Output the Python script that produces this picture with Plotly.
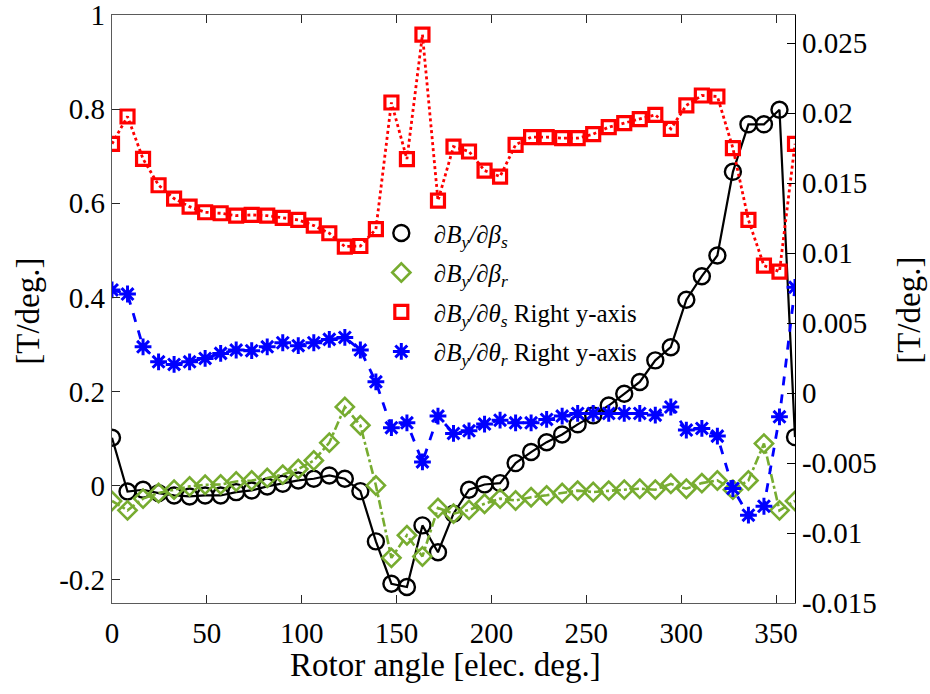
import numpy as np
import plotly.graph_objects as go

# Rotor angle samples (45 points, 0..360 elec. deg.)
angle = [i * 360 / 44 for i in range(45)]

# Left y-axis series [T/deg.]
dBy_dbeta_s = [0.1015, -0.0128, -0.0092, -0.0163, -0.0213, -0.0234, -0.0213, -0.0213, -0.0142, -0.0106,
               -0.0021, 0.0035, 0.0106, 0.0142, 0.0213, 0.0142, -0.012, -0.119, -0.209, -0.216,
               -0.085, -0.142, -0.060, -0.0092, 0.002, 0.005, 0.0475, 0.071, 0.092, 0.1085,
               0.13, 0.149, 0.170, 0.195, 0.22, 0.266, 0.294, 0.395, 0.445, 0.489,
               0.667, 0.768, 0.768, 0.799, 0.1028]
dBy_dbeta_r = [-0.033, -0.053, -0.028, -0.016, -0.009, -0.002, 0.0014, 0.002, 0.0085, 0.0106,
               0.016, 0.023, 0.035, 0.053, 0.091, 0.167, 0.128, 0.0, -0.154, -0.106,
               -0.151, -0.048, -0.060, -0.052, -0.039, -0.028, -0.032, -0.025, -0.021, -0.016,
               -0.011, -0.014, -0.011, -0.009, -0.007, -0.009, 0.0035, -0.007, 0.005, 0.0106,
               -0.009, 0.0106, 0.089, -0.053, -0.033]

# Right y-axis series [T/deg.]
dBy_dtheta_s = [0.0178, 0.01975, 0.01672, 0.01484, 0.01389, 0.01331, 0.01291, 0.01284, 0.01267, 0.01272,
                0.01267, 0.01251, 0.01236, 0.01196, 0.01141, 0.01046, 0.0105, 0.0117, 0.02075, 0.0167,
                0.0256, 0.01374, 0.0176, 0.01725, 0.01589, 0.01546, 0.01773, 0.01828, 0.01828, 0.0182,
                0.0182, 0.01849, 0.01899, 0.01928, 0.01956, 0.01987, 0.01887, 0.02054, 0.02125, 0.02118,
                0.01749, 0.01236, 0.0091, 0.00867, 0.0178]
dBy_dtheta_r = [0.00736, 0.00707, 0.0033, 0.00223, 0.00204, 0.00223, 0.00247, 0.00283, 0.00307, 0.00302,
                0.0033, 0.00359, 0.00338, 0.00359, 0.00383, 0.00397, 0.00307, 0.0008, -0.00248, -0.00213,
                -0.00492, -0.00165, -0.00289, -0.0027, -0.00222, -0.00194, -0.00213, -0.00213, -0.00189, -0.00165,
                -0.00146, -0.00146, -0.00146, -0.00146, -0.00146, -0.00158, -0.001, -0.00265, -0.00253, -0.00308,
                -0.00682, -0.00873, -0.00809, -0.0017, 0.00755]

x_ticks = [0, 50, 100, 150, 200, 250, 300, 350]
left_ticks = [-0.2, 0, 0.2, 0.4, 0.6, 0.8, 1]
left_ticktext = ["-0.2", "0", "0.2", "0.4", "0.6", "0.8", "1"]
right_ticks = [-0.015, -0.01, -0.005, 0, 0.005, 0.01, 0.015, 0.02, 0.025]
right_ticktext = ["-0.015", "-0.01", "-0.005", "0", "0.005", "0.01", "0.015", "0.02", "0.025"]

names = ["<i>∂B<sub>y</sub>/∂β<sub>s</sub></i>",
         "<i>∂B<sub>y</sub>/∂β<sub>r</sub></i>",
         "<i>∂B<sub>y</sub>/∂θ<sub>s</sub></i> Right y-axis",
         "<i>∂B<sub>y</sub>/∂θ<sub>r</sub></i> Right y-axis"]

FONT = "Liberation Serif"
GREEN = "#77AC30"

series = [
    dict(y=dBy_dbeta_s, axis="y", color="black", dash="solid", lw=2.2,
         symbol="circle-open", size=16, mlw=2.4),
    dict(y=dBy_dbeta_r, axis="y", color=GREEN, dash="dashdot", lw=2.6,
         symbol="diamond-open", size=14, mlw=2.6),
    dict(y=dBy_dtheta_s, axis="y2", color="red", dash="dot", lw=2.8,
         symbol="square-open", size=13, mlw=3.2),
    dict(y=dBy_dtheta_r, axis="y2", color="blue", dash="dash", lw=2.8,
         symbol="asterisk-open", size=14, mlw=3.0),
]

fig = go.Figure()
for k, s in enumerate(series):
    fig.add_trace(go.Scatter(
        x=angle, y=s["y"], yaxis=s["axis"], mode="lines",
        line=dict(color=s["color"], width=s["lw"], dash=s["dash"]),
        showlegend=False, hoverinfo="skip"))
    fig.add_trace(go.Scatter(
        x=angle, y=s["y"], yaxis=s["axis"], mode="markers", name=names[k],
        legendgroup="g%d" % k,
        marker=dict(symbol=s["symbol"], size=s["size"], color=s["color"],
                    line=dict(color=s["color"], width=s["mlw"]))))

axis_common = dict(showgrid=False, zeroline=False, showline=True, ticks="inside",
                   ticklen=8, tickwidth=1.2, ticklabeloverflow="allow", automargin=False,
                   tickfont=dict(family=FONT, size=29, color="black"))

fig.update_layout(
    width=930, height=694,
    margin=dict(l=112, r=135, t=15, b=91, autoexpand=False),
    paper_bgcolor="white", plot_bgcolor="white",
    font=dict(family=FONT, color="black"),
    xaxis=dict(range=[0, 360], tickvals=x_ticks, ticktext=[str(v) for v in x_ticks],
               mirror="ticks", linecolor="#5a5a5a", tickcolor="#262626", linewidth=1.2,
               ticklabelstandoff=4, **axis_common),
    yaxis=dict(range=[-0.25, 1.0005], tickvals=left_ticks, ticktext=left_ticktext,
               linecolor="#5a5a5a", tickcolor="#262626", linewidth=1.2, **axis_common),
    yaxis2=dict(range=[-0.015, 0.027], tickvals=right_ticks, ticktext=right_ticktext,
                overlaying="y", side="right", linecolor="black", tickcolor="black",
                linewidth=1.2, **axis_common),
    legend=dict(x=0.376, y=0.668, xanchor="left", yanchor="top",
                bgcolor="rgba(0,0,0,0)", borderwidth=0,
                font=dict(family=FONT, size=25, color="black"),
                tracegroupgap=4, itemsizing="trace", itemwidth=55),
    annotations=[
        dict(text="Rotor angle [elec. deg.]", xref="paper", yref="paper",
             x=0.489, y=-0.105, xanchor="center", yanchor="middle", showarrow=False,
             font=dict(family=FONT, size=33, color="black")),
        dict(text="[T/deg.]", xref="paper", yref="paper", textangle=-90,
             x=-0.123, y=0.497, xanchor="center", yanchor="middle", showarrow=False,
             font=dict(family=FONT, size=33, color="black")),
        dict(text="[T/deg.]", xref="paper", yref="paper", textangle=-90,
             x=1.167, y=0.497, xanchor="center", yanchor="middle", showarrow=False,
             font=dict(family=FONT, size=33, color="black")),
    ],
)

fig.write_html("out.html")
